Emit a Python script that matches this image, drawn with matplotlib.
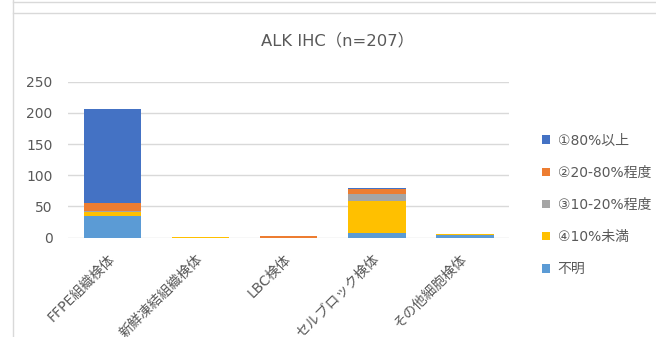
import matplotlib
matplotlib.use("Agg")
import matplotlib.pyplot as plt
from matplotlib.lines import Line2D
from matplotlib.patches import Patch
import numpy as np

plt.rcParams['font.family'] = ['DejaVu Sans', 'Noto Sans CJK JP']

categories = ['FFPE組織検体', '新鮮凍結組織検体', 'LBC検体', 'セルブロック検体', 'その他細胞検体']
# stacked bottom -> top
unknown = [35, 0, 0, 7, 5]
lt10 = [6, 1, 0, 52, 1]
p10_20 = [2, 0, 0, 11, 0]
p20_80 = [12, 0, 2, 8, 0]
ge80 = [152, 0, 0, 1, 0]

series = [
    ('不明', unknown, '#5B9BD5'),
    ('④10%未満', lt10, '#FFC000'),
    ('③10-20%程度', p10_20, '#A5A5A5'),
    ('②20-80%程度', p20_80, '#ED7D31'),
    ('①80%以上', ge80, '#4472C4'),
]

txt = '#595959'
grid = '#D9D9D9'

fig = plt.figure(figsize=(6.56, 3.37), dpi=100)
ax = fig.add_axes([0.1044, 0.2947, 0.776 - 0.1044, 0.7576 - 0.2947])

x = np.arange(len(categories))
bottom = np.zeros(len(categories))
for name, vals, col in series:
    ax.bar(x, vals, 0.65, bottom=bottom, color=col, label=name, zorder=3)
    bottom += np.array(vals)

ax.set_ylim(0, 250)
ax.set_xlim(-0.5, len(categories) - 0.5)
ax.set_yticks(range(0, 251, 50))
ax.yaxis.grid(True, color=grid, linewidth=1, zorder=0)
for s in ax.spines.values():
    s.set_visible(False)
ax.tick_params(axis='both', length=0, colors=txt, labelsize=10)
ax.tick_params(axis='y', pad=11.5)
ax.set_xticks(x)
ax.set_xticklabels(categories, rotation=45, ha='right', va='center', rotation_mode='anchor', color=txt)
ax.tick_params(axis='x', pad=14)

fig.text(0.514, 0.88, 'ALK IHC（n=207）', ha='center', va='center', fontsize=11.8, color=txt)

handles = [Patch(facecolor=c, edgecolor='none') for _, _, c in series][::-1]
labels = [n for n, _, _ in series][::-1]
fig.legend(handles, labels, loc='center left', bbox_to_anchor=(0.815, 0.392), frameon=False,
           fontsize=10, labelcolor=txt, handlelength=0.6, handleheight=0.6,
           handletextpad=0.55, labelspacing=1.3, borderpad=0)

# outer chart frame lines
fig.add_artist(Line2D([13 / 656, 13 / 656], [0, 1], transform=fig.transFigure, color=grid, lw=1))
fig.add_artist(Line2D([13 / 656, 1], [1 - 13 / 337, 1 - 13 / 337], transform=fig.transFigure, color=grid, lw=1))
fig.add_artist(Line2D([13 / 656, 1], [1 - 2 / 337, 1 - 2 / 337], transform=fig.transFigure, color=grid, lw=1))

fig.savefig('out.png', dpi=100)
